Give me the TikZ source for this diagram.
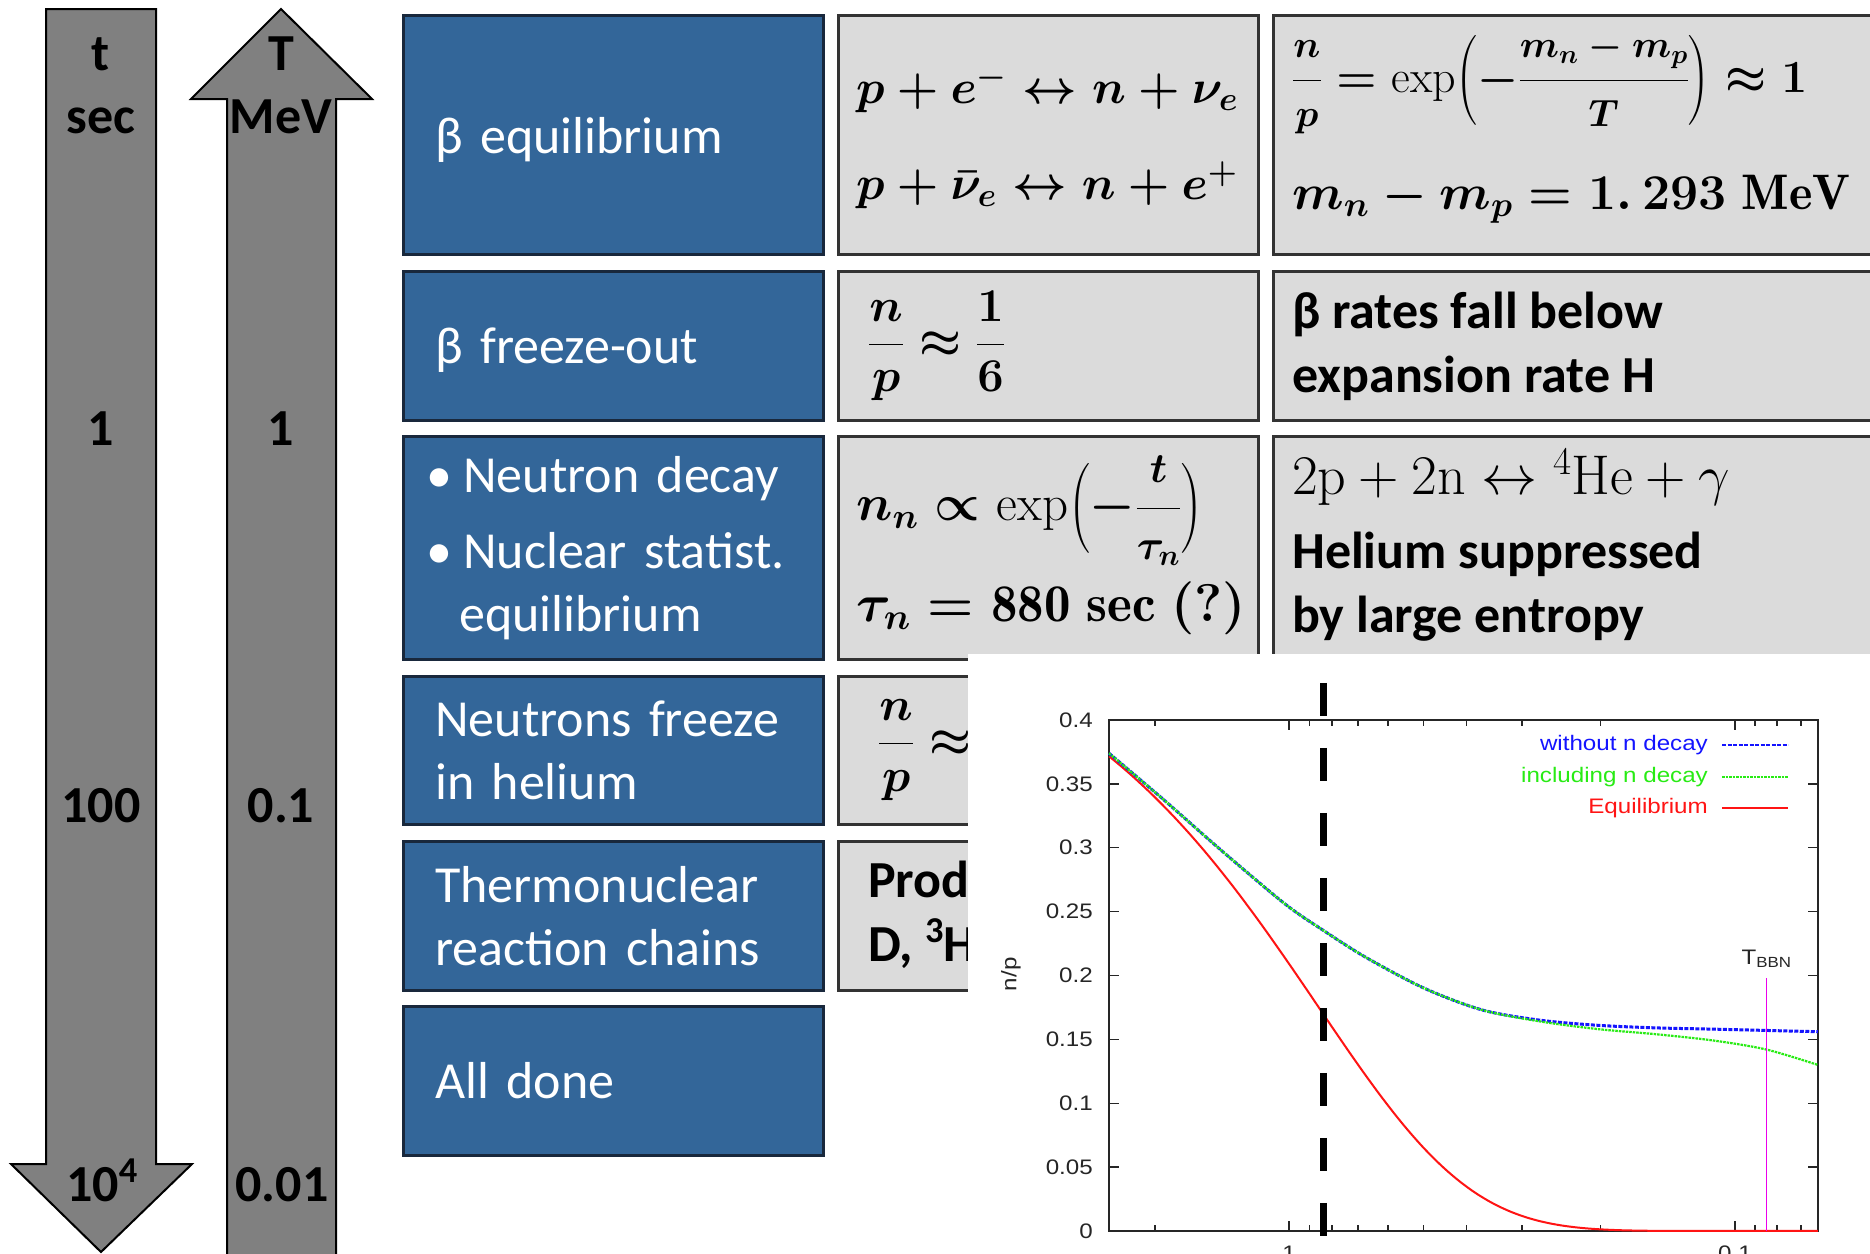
\RequirePackage{fix-cm}
\documentclass[tikz,border=0pt]{standalone}
\usepackage{fontspec}
\usepackage{amsmath}
\usetikzlibrary{positioning}
\newfontfamily\calib{Carlito}
\newfontfamily\gplot[FakeStretch=1.15]{Liberation Sans}
\definecolor{boxblue}{RGB}{51,102,153}
\definecolor{boxedge}{RGB}{25,40,60}
\definecolor{cellgray}{RGB}{219,219,219}
\definecolor{shaftgray}{RGB}{128,128,128}
\definecolor{npblue}{RGB}{20,20,255}
\definecolor{npgreen}{RGB}{40,235,20}
\definecolor{npred}{RGB}{255,20,20}
\definecolor{bbnmagenta}{RGB}{235,0,235}
% fraction with slightly reduced numerator and denominator
\newcommand{\cellfrac}[3]{\dfrac{\mbox{\fontsize{#1}{#1}\selectfont$#2$}}{\mbox{\fontsize{#1}{#1}\selectfont$#3$}}}

\tikzset{
  scalebar/.style={draw=black, line width=2pt, fill=shaftgray},
  scalelabel/.style={font=\calib\bfseries\fontsize{52}{60}\selectfont, anchor=base, inner sep=0pt},
  stagebox/.style={draw=boxedge, line width=2.5pt, fill=boxblue, text=white,
    font=\calib\fontsize{52}{63}\selectfont, minimum width=420pt, text width=356pt,
    inner xsep=32pt, inner ysep=0pt, align=left, anchor=north west},
  cellbox/.style={draw=black!80, line width=2.5pt, fill=cellgray, inner sep=0pt,
    minimum width=420pt, anchor=north west},
  celltext/.style={font=\calib\bfseries\fontsize{52}{64}\selectfont, align=left,
    anchor=west, inner sep=0pt},
  cellmath/.style={font=\fontsize{#1}{#1}\selectfont\boldmath, anchor=west, inner sep=0pt},
  cellmath/.default=47,
  cellmathlight/.style={font=\fontsize{#1}{#1}\selectfont, anchor=west, inner sep=0pt},
  cellmathlight/.default=47,
  plotframe/.style={draw=black!85, line width=1.5pt},
  ticktext/.style={font=\gplot\fontsize{21}{24}\selectfont, text=black!85, inner sep=0pt},
  eqcurve/.style={draw=npred, line width=2pt},
  freeblue/.style={draw=npblue, line width=3pt, dash pattern=on 4pt off 1.5pt},
  freegreen/.style={draw=npgreen, line width=2.2pt, dash pattern=on 2.5pt off 1pt},
  freezeline/.style={draw=black, line width=7pt, dash pattern=on 33pt off 32pt},
  bbnline/.style={draw=bbnmagenta, line width=1.5pt}
}

\begin{document}
\begin{tikzpicture}[x=1pt, y=-1pt]
\useasboundingbox (0,0) rectangle (1870,1253);
\clip (0,0) rectangle (1870,1253);
\fill[white] (0,0) rectangle (1870,1253);

% time arrow, pointing down
\draw[scalebar] (46,9) -- (156,9) -- (156,1164) -- (192,1164) -- (101,1252)
  -- (11,1164) -- (46,1164) -- cycle;
% temperature arrow, pointing up
\draw[scalebar] (281,9) -- (372,99) -- (336,99) -- (336,1265) -- (227,1265)
  -- (227,99) -- (191,99) -- cycle;

% labels on the time arrow
\node[scalelabel] (tname) at (101,70) {t};
\node[scalelabel] (tunit) at (101,133) {sec};
\node[scalelabel] (tone) at (101,445) {1};
\node[scalelabel] (thundred) at (101,822) {100};
\node[scalelabel] (tlast) at (102,1201) {10\textsuperscript{4}};

% labels on the temperature arrow
\node[scalelabel] (Tname) at (281,70) {T};
\node[scalelabel] (Tunit) at (281,133) {MeV};
\node[scalelabel] (Tone) at (281,445) {1};
\node[scalelabel] (Ttenth) at (281,822) {0.1};
\node[scalelabel] (Tlast) at (282,1201) {0.01};

% stages
\node[stagebox, minimum height=239pt] (stageeq) at (402,14)
  {\raisebox{-5pt}[\height][\depth]{β equilibrium}};
\node[stagebox, minimum height=149pt] (stagefreeze) at (402,270)
  {\raisebox{-4pt}[\height][\depth]{β freeze-out}};
\node[stagebox, minimum height=223pt] (stagedecay) at (402,435)
  {\hspace*{-9pt}\makebox[37pt][l]{•}Neutron decay\\[13pt]\hspace*{-9pt}\makebox[37pt][l]{•}Nuclear statist.\\\hspace*{24pt}equilibrium};
\node[stagebox, minimum height=148pt] (stagehelium) at (402,675) {Neutrons freeze\\in helium};
\node[stagebox, minimum height=149pt] (stagechains) at (402,840) {Thermonuclear\\reaction chains};
\node[stagebox, minimum height=149pt] (stagedone) at (402,1005) {All done};

% middle column
\node[cellbox, minimum height=239pt] (mideq) at (837,14) {};
\node[cellbox, minimum height=149pt] (midfreeze) at (837,270) {};
\node[cellbox, minimum height=223pt] (middecay) at (837,435) {};
\node[cellbox, minimum height=148pt] (midhelium) at (837,675) {};
\node[cellbox, minimum height=149pt] (midchains) at (837,840) {};

% right column
\node[cellbox, minimum width=620pt, minimum height=239pt] (righteq) at (1272,14) {};
\node[cellbox, minimum width=620pt, minimum height=149pt] (rightfreeze) at (1272,270) {};
\node[cellbox, minimum width=620pt, minimum height=223pt] (rightdecay) at (1272,435) {};

% cell contents
\node[cellmath=47.5] (reactA) at (856,89) {$p + e^- \leftrightarrow n + \nu_e$};
\node[cellmath=47.5] (reactB) at (856,185) {$p + \bar{\nu}_e \leftrightarrow n + e^+$};
\node[cellmath=46] (ratioeq) at (1292,84)
  {$\cellfrac{38}{n}{p} = \textnormal{exp}\Bigl(-\cellfrac{38}{m_n - m_p}{T}\Bigr) \approx 1$};
\node[cellmath=50] (massdiff) at (1292,199) {$m_n - m_p = 1.\,293\ \mathrm{MeV}$};
\node[cellmath] (ratiofreeze) at (868,346) {$\dfrac{n}{p} \approx \dfrac{1}{6}$};
\node[celltext] (ratetext) at (1292,346) {β rates fall below\\expansion rate H};
\node[cellmath=51] (decaylaw) at (856,511) {$n_n \propto \textnormal{exp}\Bigl(-\cellfrac{42}{t}{\tau_n}\Bigr)$};
\node[cellmath=53] (lifetime) at (856,608) {$\tau_n = \mathrm{880\ sec\ (?)}$};
\node[cellmathlight=56] (fusion) at (1292,477) {$\mathrm{2p} + \mathrm{2n} \leftrightarrow {}^{4}\mathrm{He} + \gamma$};
\node[celltext] (entropytext) at (1292,587) {Helium suppressed\\by large entropy};
\node[cellmath] (ratiohelium) at (878,750) {$\dfrac{n}{p} \approx$};
\node[celltext] (prodtext) at (868,915) {Prod\\D, \textsuperscript{3}H};

% plot panel on top
\fill[white] (968,654) rectangle (1880,1260);

\begin{scope}[shift={(1289,1231)}, x={(-446pt,0pt)}, y={(0pt,1277.5pt)}]
  % frame and ticks
  \draw[plotframe] (0.4036,0) rectangle (-1.186,0.4);
  \foreach \i/\lab in {0/0,1/0.05,2/0.1,3/0.15,4/0.2,5/0.25,6/0.3,7/0.35,8/0.4} {
    \draw[plotframe] (0.4036,\i*0.05) -- ++(-0.022,0);
    \draw[plotframe] (-1.186,\i*0.05) -- ++(0.022,0);
    \node[ticktext, anchor=east, xshift=-16pt] (ytick\i) at (0.4036,\i*0.05) {\lab};
  }
  \foreach \T in {2,0.9,0.8,0.7,0.6,0.5,0.4,0.3,0.2,0.09,0.08,0.07} {
    \pgfmathsetmacro\lt{log10(\T)}
    \draw[plotframe] (\lt,0) -- ++(0,0.005);
    \draw[plotframe] (\lt,0.4) -- ++(0,-0.005);
  }
  \draw[plotframe] (0,0) -- ++(0,0.008) (0,0.4) -- ++(0,-0.008);
  \draw[plotframe] (-1,0) -- ++(0,0.008) (-1,0.4) -- ++(0,-0.008);
  \node[ticktext, anchor=north, yshift=-15pt] (xone) at (0,0) {1};
  \node[ticktext, anchor=north, yshift=-15pt] (xtenth) at (-1,0) {0.1};
  \node[ticktext, rotate=90] (ylabel) at (0.6236,0.201) {n/p};

  % curves
  \draw[eqcurve] plot[domain=-1.186:0.4036, samples=160]
    (\x,{1/(1+exp(min(1.33/pow(10,\x),9)))});
  \draw[freeblue] plot[smooth] coordinates {(0.4036,0.374) (0.2823,0.338) (0.152,0.298)
    (0.0089,0.256) (-0.0783,0.235) (-0.1733,0.214) (-0.3034,0.190) (-0.4335,0.173)
    (-0.5636,0.165) (-0.6937,0.161) (-0.8239,0.159) (-0.9541,0.158) (-1.0711,0.157) (-1.186,0.156)};
  \draw[freegreen] plot[smooth] coordinates {(0.4036,0.374) (0.2823,0.338) (0.152,0.298)
    (0.0089,0.256) (-0.0783,0.235) (-0.1733,0.214) (-0.3034,0.190) (-0.4335,0.173)
    (-0.5636,0.164) (-0.6937,0.158) (-0.8239,0.154) (-0.9541,0.149) (-1.0711,0.142) (-1.186,0.130)};

  % freeze-out and BBN temperatures
  \draw[freezeline] (-0.078,0.429) -- (-0.078,-0.005);
  \draw[bbnline] (-1.071,0) -- (-1.071,0.198);
  \node[ticktext] (tbbn) at (-1.071,0.213) {T\textsubscript{BBN}};
\end{scope}

% legend
\node[ticktext, text=npblue, anchor=east] (keyblue) at (1708,745) {without n decay};
\node[ticktext, text=npgreen, anchor=east] (keygreen) at (1708,777) {including n decay};
\node[ticktext, text=npred, anchor=east] (keyred) at (1708,808) {Equilibrium};
\draw[npblue, line width=1.5pt, dash pattern=on 4pt off 1.5pt] (1722,745) -- (1788,745);
\draw[npgreen, line width=2pt, dash pattern=on 2.5pt off 1pt] (1722,777) -- (1788,777);
\draw[npred, line width=2.5pt] (1722,808) -- (1788,808);

\end{tikzpicture}
\end{document}
